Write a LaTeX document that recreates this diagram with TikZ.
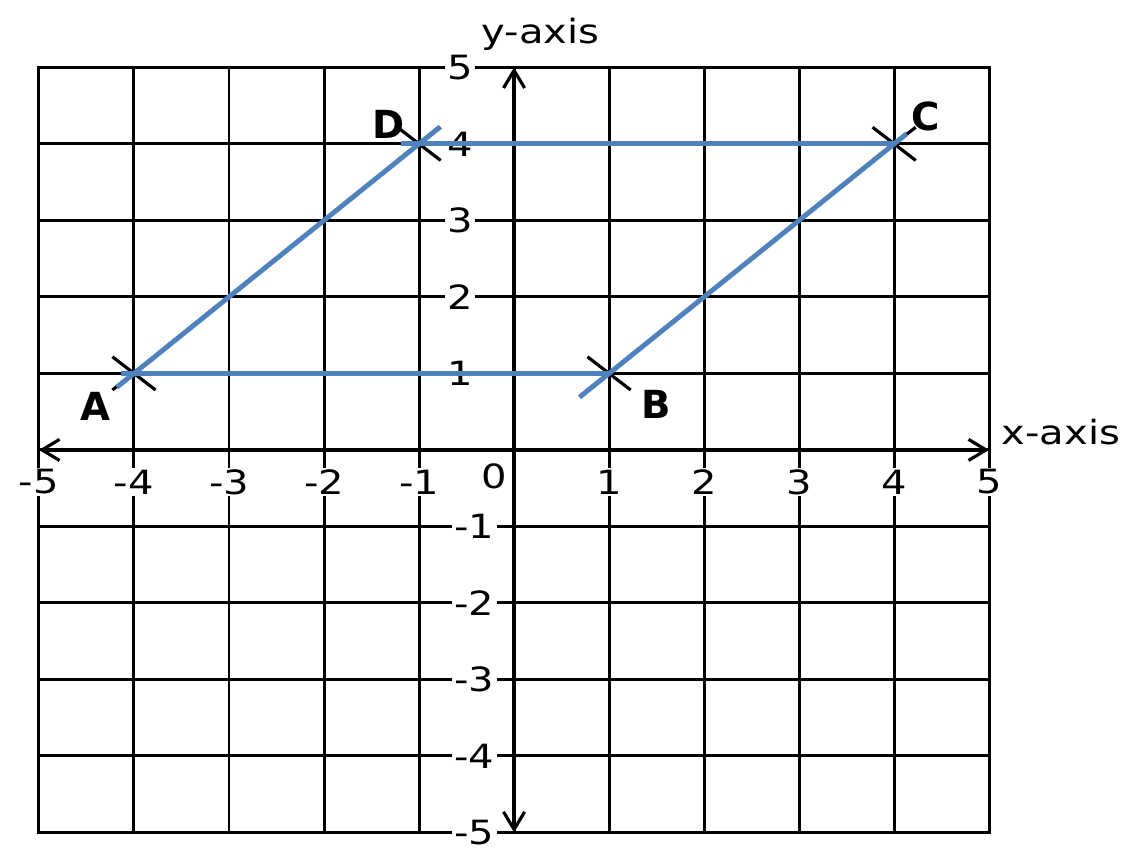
\documentclass[tikz,border=0pt]{standalone}
\usepackage{fontspec}
\setmainfont{DejaVu Sans}
\usepackage{xcolor}
\usetikzlibrary{shapes,arrows.meta,positioning}

\definecolor{sideblue}{RGB}{79,129,189}

\begin{document}
\begin{tikzpicture}[
        x=1.9cm, y=1.53cm,
        gridline/.style={line width=1.7pt, line cap=rect},
        axis/.style={line width=1.8pt, {Straight Barb[length=10pt,width=12pt]}-{Straight Barb[length=10pt,width=12pt]}},
        tick/.style={font=\fontsize{19}{22}\selectfont, xscale=1.2, inner sep=1pt, fill=white},
        axlabel/.style={font=\fontsize{19}{22}\selectfont, xscale=1.2, inner sep=1pt},
        pt/.style={cross out, draw, line width=1.8pt, minimum width=0.8cm, minimum height=0.6cm, inner sep=0pt},
        ptlabel/.style={font=\fontsize{22}{26}\selectfont\bfseries, inner sep=1pt},
        side/.style={draw=sideblue, line width=2.8pt}
    ]
        \useasboundingbox (-5.41,-5.25) rectangle (6.44,5.88);

        % Grid
        \foreach \i in {-5,...,5} {
            \draw[gridline] (\i,-5) -- (\i,5);
            \draw[gridline] (-5,\i) -- (5,\i);
        }

        % Tick labels
        \foreach \i in {-5,-4,-3,-2,-1,1,2,3,4,5}
            \node[tick] (xtick\i) at (\i,-0.42) {\i};
        \node[tick] (xtick0) at (-0.21,-0.35) {0};
        \foreach \i in {1,...,5}
            \node[tick] (ytick\i) at (-0.57,\i) {\i};
        \foreach \i in {-5,...,-1}
            \node[tick, anchor=east] (ytick\i) at (-0.18,\i) {\i};

        % Axes
        \coordinate (xleft) at (-5,0);
        \coordinate (xright) at (5,0);
        \coordinate (ybot) at (0,-5);
        \coordinate (ytop) at (0,5);
        \draw[axis] (xleft) -- (xright);
        \draw[axis] (ybot) -- (ytop);
        \node[axlabel, right=2mm of xright, yshift=3.6mm] (xname) {x-axis};
        \node[axlabel, above right=3mm and -7mm of ytop] (yname) {y-axis};

        % Points
        \node[pt] (A) at (-4,1) {};
        \node[pt] (B) at (1,1) {};
        \node[pt] (C) at (4,4) {};
        \node[pt] (D) at (-1,4) {};

        % Sides
        \draw[side, shorten <=-0.26cm] (A.center) -- (B.center);
        \draw[side, shorten <=-0.76cm, shorten >=-0.32cm] (B.center) -- (C.center);
        \draw[side, shorten <=-0.36cm] (D.center) -- (C.center);
        \draw[side, shorten <=-0.44cm, shorten >=-0.54cm] (A.center) -- (D.center);

        % Point labels
        \node[ptlabel, below left=0mm and 0mm of A] (labA) {A};
        \node[ptlabel, below right=-0.4mm and 1.8mm of B] (labB) {B};
        \node[ptlabel, above right=-1.2mm and -1.2mm of C] (labC) {C};
        \node[ptlabel, above left=-2.6mm and -1.8mm of D] (labD) {D};
    \end{tikzpicture}
\end{document}
